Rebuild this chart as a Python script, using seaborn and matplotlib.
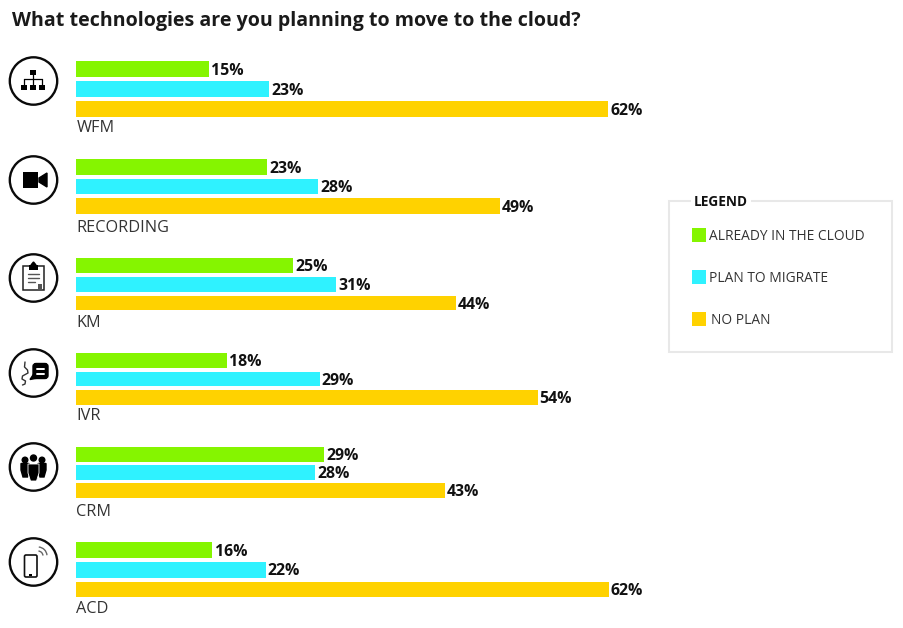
"""
Cloud migration plans by contact centre technology
"""

import numpy as np
import pandas as pd
import matplotlib
matplotlib.use("Agg")
import matplotlib.pyplot as plt
import seaborn as sns
from matplotlib.patches import Circle, FancyBboxPatch, Polygon, Rectangle, Arc

categories = ["WFM", "RECORDING", "KM", "IVR", "CRM", "ACD"]
statuses = ["ALREADY IN THE CLOUD", "PLAN TO MIGRATE", "NO PLAN"]

# bar lengths as drawn, they differ slightly from the printed numbers
already_cloud = [15.5, 22.3, 25.3, 17.6, 28.9, 15.9]
plan_migrate = [22.5, 28.2, 30.3, 28.4, 27.9, 22.1]
no_plan = [62.0, 49.4, 44.3, 53.8, 43.0, 62.1]

# numbers printed next to the bars
already_labels = [15, 23, 25, 18, 29, 16]
migrate_labels = [23, 28, 31, 29, 28, 22]
no_plan_labels = [62, 49, 44, 54, 43, 62]

title = "What technologies are you planning to move to the cloud?"

W, H = 904, 628
COLORS = ["#85F500", "#2FF2FF", "#FFD200"]
TEXT = "#333333"
FONT = ["Open Sans", "DejaVu Sans"]

# layout in pixels, per group
centers = [89, 186.5, 284.3, 379, 472.5, 569.8]
pitches = [20, 19.5, 18.7, 18.5, 18.2, 19.6]
label_y = [128.5, 227.5, 323, 416.5, 512, 609]
icon_y = [81, 180, 278, 373, 467, 562]
PX_PER_PCT = 8.58
BAR_LEFT = 76
AX_WIDTH = 590

sns.set_theme(style="white")
plt.rcParams["font.family"] = FONT

df = pd.DataFrame({
    "tech": categories,
    statuses[0]: already_cloud,
    statuses[1]: plan_migrate,
    statuses[2]: no_plan,
}).melt(id_vars="tech", var_name="status", value_name="share")

printed = np.array([already_labels, migrate_labels, no_plan_labels])

fig = plt.figure(figsize=(W / 100, H / 100), dpi=100)
fig.patch.set_facecolor("white")

for i, tech in enumerate(categories):
    ax_h = pitches[i] * 3 / 0.8
    ax = fig.add_axes([
        BAR_LEFT / W,
        1 - (centers[i] + ax_h / 2) / H,
        AX_WIDTH / W,
        ax_h / H,
    ])
    sns.barplot(
        data=df[df["tech"] == tech], x="share", y="tech", hue="status",
        hue_order=statuses, palette=COLORS, saturation=1, gap=0.2,
        linewidth=0, legend=False, ax=ax,
    )
    ax.set_xlim(0, AX_WIDTH / PX_PER_PCT)
    for j, container in enumerate(ax.containers):
        anns = ax.bar_label(
            container, labels=[f"{printed[j][i]}%"], padding=1.5,
            fontsize=11.4, fontweight="bold", color="#111111",
        )
        # labels sit a touch below the bar centre
        for ann in anns:
            ann.xyann = (ann.xyann[0], -1.1)
    ax.axis("off")

# overlay in pixel coordinates for the icons, labels and legend box
ov = fig.add_axes([0, 0, 1, 1], zorder=5)
ov.set_xlim(0, W)
ov.set_ylim(H, 0)
ov.axis("off")
ov.patch.set_alpha(0)

ov.text(12, 21, title, fontsize=14.1, fontweight="bold", color="#1a1a1a",
        va="center", ha="left")

for name, y in zip(categories, label_y):
    ov.text(76.5, y, name, fontsize=11.7, color=TEXT, va="center", ha="left")


def box(x0, y0, x1, y1, **kw):
    kw.setdefault("facecolor", "black")
    kw.setdefault("edgecolor", "none")
    ov.add_patch(Rectangle((x0, y0), x1 - x0, y1 - y0, **kw))


def icon_org():
    box(30.5, 70, 36.5, 74.5)
    ov.plot([33.5, 33.5], [74, 85], color="black", lw=0.9)
    ov.plot([24.5, 42], [79, 79], color="black", lw=0.9)
    for x in (24.5, 42):
        ov.plot([x, x], [79, 85], color="black", lw=0.9)
    for x0, x1 in ((21.5, 27.5), (30, 36.5), (39, 45.5)):
        box(x0, 85, x1, 90)


def icon_video():
    box(23, 172, 38, 188)
    ov.add_patch(Polygon([(39, 178), (47, 173), (47, 187), (39, 182)], color="black"))


def icon_clipboard():
    box(23.5, 266, 44, 290, facecolor="white", edgecolor="#222222", linewidth=1.1)
    box(29, 265, 38, 270)
    ov.add_patch(Polygon([(31, 265), (33.5, 262), (36, 265)], color="black"))
    for y, x1 in ((274, 39), (278, 39), (282, 35)):
        ov.plot([28, x1], [y, y], color="#555555", lw=1.0)
    box(38, 284, 42.5, 289, facecolor="#555555")


def icon_ivr():
    ov.add_patch(FancyBboxPatch((33, 363.5), 15, 15, boxstyle="round,pad=0,rounding_size=3",
                                facecolor="black", edgecolor="black", linewidth=1))
    ov.add_patch(Polygon([(35, 372), (30, 379.5), (38, 378)], color="black"))
    for y in (368.5, 373.5):
        ov.plot([37.5, 44.5], [y, y], color="white", lw=1.4)
    ov.plot([25, 24.5, 27.5, 28, 22.5, 22, 25.5, 25, 22.5],
            [362, 367, 370, 373, 376, 379, 381, 384, 385],
            color="#333333", lw=1.0)


def icon_people():
    for x, y in ((25, 460), (42, 460)):
        ov.add_patch(Circle((x, y), 2.8, color="black"))
        ov.add_patch(Polygon([(21, y + 3.5), (29, y + 3.5), (29, y + 10), (27.5, y + 17),
                              (23, y + 17), (21, y + 10)] if x < 30 else
                             [(38, y + 3.5), (46, y + 3.5), (46, y + 10), (44, y + 17),
                              (40, y + 17), (38, y + 10)], color="black"))
    ov.add_patch(Circle((33.5, 458), 3.1, color="white", ec="white", lw=0.8, zorder=3))
    ov.add_patch(Circle((33.5, 458), 3.0, color="black", zorder=4))
    ov.add_patch(Polygon([(28, 464), (39, 464), (39, 473), (36.5, 481), (30.5, 481), (28, 473)],
                         facecolor="black", edgecolor="white", linewidth=0.6, zorder=4))


def icon_phone():
    ov.add_patch(FancyBboxPatch((24.5, 555), 12.5, 22, boxstyle="round,pad=0,rounding_size=1.5",
                                facecolor="white", edgecolor="#111111", linewidth=1.2))
    box(26, 557, 35.5, 573.5, facecolor="white")
    box(29.5, 574, 32, 576)
    for d in (5, 9):
        ov.add_patch(Arc((38, 556), d * 2, d * 2, theta1=-85, theta2=-5,
                         edgecolor="#666666", linewidth=1.0))


for y in icon_y:
    ov.add_patch(Circle((33.5, y), 23.7, facecolor="white", edgecolor="#0a0a0a", linewidth=1.7))
for draw in (icon_org, icon_video, icon_clipboard, icon_ivr, icon_people, icon_phone):
    draw()

# legend
ov.add_patch(Rectangle((669.5, 201), 222.5, 151, facecolor="white", edgecolor="#e8e8e8",
                       linewidth=1.5))
ov.text(694, 202, "LEGEND", fontsize=9.8, fontweight="bold", color="#111111", va="center",
        bbox=dict(facecolor="white", edgecolor="none", pad=2))
legend_y = [235, 277, 319]
legend_x = [709, 709, 711]
for status, color, y, x in zip(statuses, COLORS, legend_y, legend_x):
    ov.add_patch(Rectangle((692, y - 7), 14, 14, facecolor=color, edgecolor="none"))
    ov.text(x, y + 2, status, fontsize=9.9, color=TEXT, va="center", ha="left")

fig.savefig("out.png", dpi=100)
